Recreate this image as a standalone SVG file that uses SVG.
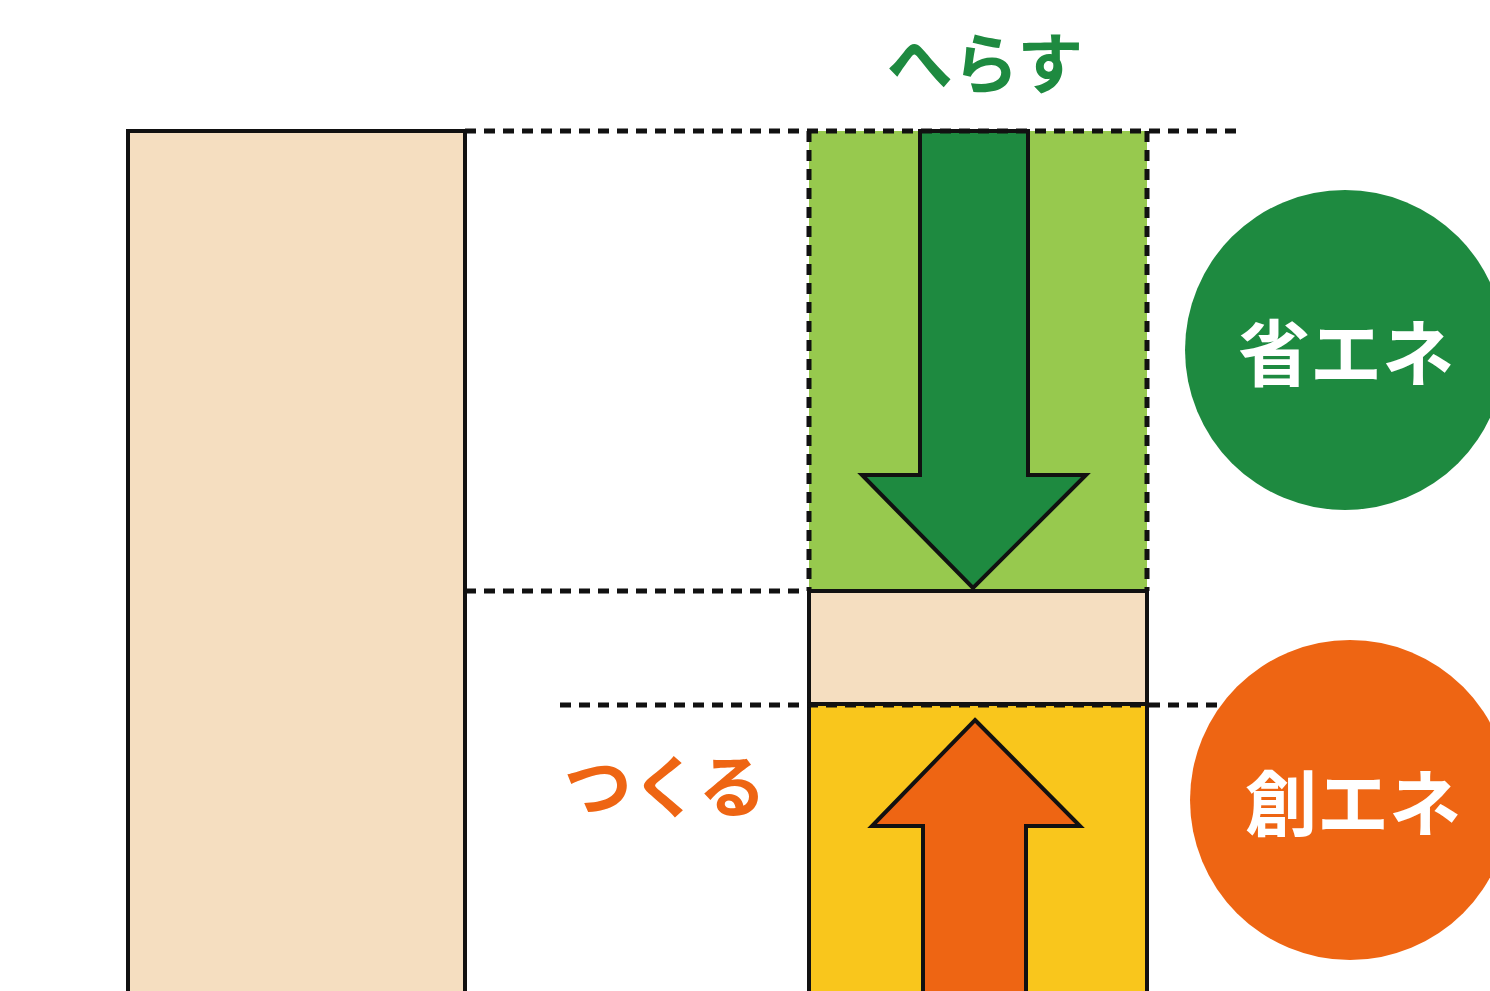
<svg xmlns="http://www.w3.org/2000/svg" width="1490" height="991" viewBox="0 0 1490 991">
<style>
.dash{stroke:#111;stroke-width:5;stroke-dasharray:11 8;fill:none}
.solid{stroke:#111;stroke-width:4}
.lbl{font-family:"Noto Sans CJK JP","Noto Sans",sans-serif;font-weight:700}
</style>
<rect width="1490" height="991" fill="#fff"/>
<g id="base">
<rect x="128" y="131" width="337" height="880" fill="#F5DEC0" class="solid"/>
</g>
<g id="reduce">
<rect x="809" y="131" width="338" height="460" fill="#97C94E"/>
<line x1="809" y1="131" x2="809" y2="591" class="dash"/>
<line x1="1147" y1="131" x2="1147" y2="591" class="dash"/>
<polygon points="920,131 1028,131 1028,475 1086,475 973,588 862,475 920,475" fill="#1E8A40" class="solid"/>
</g>
<g id="remain">
<rect x="809" y="591" width="338" height="113" fill="#F5DEC0" class="solid"/>
</g>
<g id="create">
<rect x="809" y="704" width="338" height="310" fill="#F9C61C" class="solid"/>
<polygon points="975,720 1080,826 1026,826 1026,1010 923,1010 923,826 872,826" fill="#EE6513" class="solid"/>
</g>
<g id="connectors">
<line x1="465" y1="131" x2="1240" y2="131" class="dash"/>
<line x1="465" y1="591" x2="809" y2="591" class="dash"/>
<line x1="560" y1="705" x2="1240" y2="705" class="dash"/>
</g>
<g id="label-herasu">
<text x="985" y="88" text-anchor="middle" class="lbl" font-size="66" fill="#1E8A40">へらす</text>
</g>
<g id="label-tsukuru">
<text x="665" y="812" text-anchor="middle" class="lbl" font-size="68" fill="#EE6513">つくる</text>
</g>
<g id="shoene">
<circle cx="1345" cy="350" r="160" fill="#1E8A40"/>
<text x="1346" y="380" text-anchor="middle" class="lbl" font-size="72" fill="#fff">省エネ</text>
</g>
<g id="souene">
<circle cx="1350" cy="800" r="160" fill="#EE6513"/>
<text x="1353" y="830" text-anchor="middle" class="lbl" font-size="72" fill="#fff">創エネ</text>
</g>
</svg>
